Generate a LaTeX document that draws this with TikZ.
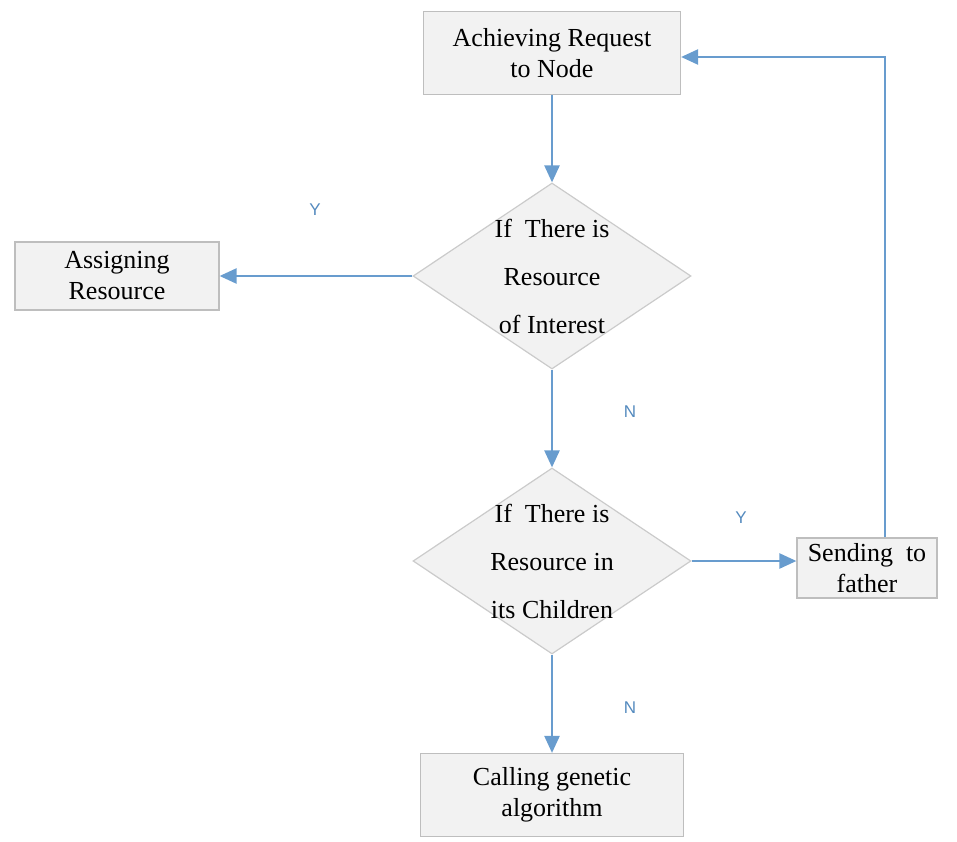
\documentclass[tikz,border=0pt]{standalone}
\usepackage{fontspec}
\setmainfont{Liberation Serif}
\setsansfont{Liberation Sans}
\usetikzlibrary{shapes.geometric}
\usetikzlibrary{arrows.meta}
\usetikzlibrary{positioning}

\definecolor{flowline}{RGB}{104,156,206}
\definecolor{boxfill}{RGB}{242,242,242}
\definecolor{boxdraw}{RGB}{190,190,190}
\definecolor{answercol}{RGB}{84,138,190}

\tikzset{
    procbox/.style={draw=boxdraw, fill=boxfill, line width=1.2pt, align=center, inner sep=0pt, font=\fontsize{26}{31}\selectfont},
    decision/.style={diamond, draw=boxdraw!80, fill=boxfill, line width=1.2pt, minimum width=278pt, minimum height=186pt, inner sep=0pt},
    decisiontext/.style={align=center, font=\fontsize{26}{48}\selectfont},
    flow/.style={draw=flowline, line width=2.4pt, -{Triangle[length=17pt,width=15pt]}},
    answer/.style={text=answercol, font=\sffamily\fontsize{17}{17}\selectfont}
}

\begin{document}
\begin{tikzpicture}[x=1pt, y=-1pt]
    \useasboundingbox (0,0) rectangle (957,842);

    % Draw boxes
    \node [procbox, minimum width=257pt, minimum height=83pt] (request) at (552,53) {Achieving Request\\to Node};
    \node [procbox, minimum width=204pt, minimum height=68pt] (assign) at (117,276) {Assigning\\Resource};
    \node [procbox, minimum width=140pt, minimum height=60pt] (father) at (867,568) {Sending\ \ to\\father};
    \node [procbox, minimum width=263pt, minimum height=83pt] (genetic) at (552,795) {Calling genetic\\algorithm};

    % Draw decisions
    \node [decision] (interest) at (552,276) {};
    \node [decisiontext] (interesttext) at (interest) {If\ \ There is\\Resource\\of Interest};
    \node [decision] (children) at (552,561) {};
    \node [decisiontext] (childrentext) at (children) {If\ \ There is\\Resource in\\its Children};

    % Draw arrows
    \draw [flow] (request) -- (interest);
    \draw [flow] (interest) -- (assign);
    \draw [flow] (interest) -- (children);
    \draw [flow] (children.east) -- (children.east -| father.west);
    \draw [flow] (children) -- (genetic);
    \coordinate (back) at (885,57);
    \draw [flow] (back |- father.north) -- (back) -- (back -| request.east);

    % Draw answers
    \node [answer] (yes1) at (315,210) {Y};
    \node [answer] (no1) at (630,412) {N};
    \node [answer] (yes2) at (741,518) {Y};
    \node [answer] (no2) at (630,708) {N};

\end{tikzpicture}
\end{document}
